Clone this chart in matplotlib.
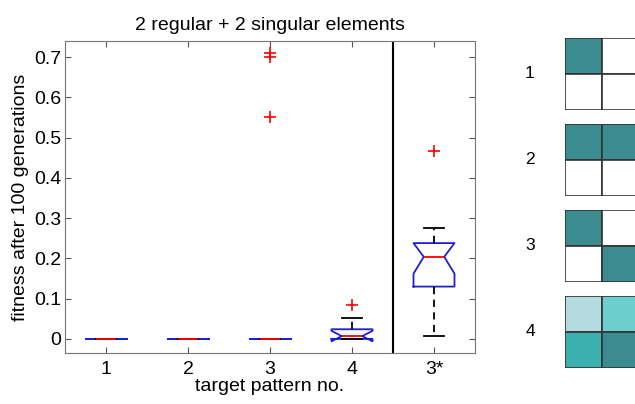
import numpy as np
import matplotlib.pyplot as plt
from matplotlib.patches import Rectangle

plt.rcParams['font.family'] = ['Liberation Sans', 'DejaVu Sans']

# box statistics
labels = ['1', '2', '3', '4', '3*']
q1 = [0.0, 0.0, 0.0, 0.0, 0.13]
med = [0.0, 0.0, 0.0, 0.007, 0.204]
q3 = [0.0, 0.0, 0.0, 0.024, 0.238]
ci_lo = [0.0, 0.0, 0.0, -0.006, 0.162]
ci_hi = [0.0, 0.0, 0.0, 0.02, 0.238]
wh_lo = [0.0, 0.0, 0.0, 0.0, 0.006]
wh_hi = [0.0, 0.0, 0.0, 0.052, 0.275]
fliers = [[], [], [0.70, 0.71, 0.55], [0.083], [0.466]]

# target patterns (2x2 cells)
patterns = [
    [['#3b8c8f', 'white'], ['white', 'white']],
    [['#3b8c8f', '#3b8c8f'], ['white', 'white']],
    [['#3b8c8f', 'white'], ['white', '#3b8c8f']],
    [['#b4dbe0', '#6dcfcc'], ['#3bb0ae', '#3b8c8f']],
]

fig = plt.figure(figsize=(6.35, 4.04), dpi=100)
ax = fig.add_axes([65/635, 1-353/404, 410/635, 312/404])

stats = []
for i in range(len(labels)):
    stats.append(dict(med=med[i], q1=q1[i], q3=q3[i], whislo=wh_lo[i],
                      whishi=wh_hi[i], cilo=ci_lo[i], cihi=ci_hi[i],
                      fliers=fliers[i], label=labels[i]))

ax.bxp(stats, positions=np.arange(1, 6), widths=0.5, shownotches=True,
       boxprops=dict(color='#1f1fd0', lw=1.3),
       medianprops=dict(color='red', lw=1.3),
       whiskerprops=dict(color='black', ls=(0, (4, 3)), lw=1.3),
       capprops=dict(color='black', lw=1.3),
       flierprops=dict(marker='+', markeredgecolor='red', markersize=9,
                       markeredgewidth=1.2, linestyle='none'))

ax.axvline(4.5, color='black', lw=1.5)
ax.set_xlim(0.5, 5.5)
ax.set_ylim(-0.035, 0.74)
ax.set_yticks(np.arange(0, 0.71, 0.1))
ax.set_yticklabels(['0', '0.1', '0.2', '0.3', '0.4', '0.5', '0.6', '0.7'])
ax.tick_params(direction='in', top=True, right=True, labelsize=14,
               length=4, color='#555555')
ax.tick_params(axis='x', pad=6)
ax.tick_params(axis='y', pad=2.5)
for s in ax.spines.values():
    s.set_color('#777777')
ax.set_title('2 regular + 2 singular elements', fontsize=14, pad=8)
ax.set_xlabel('target pattern no.', fontsize=14)
ax.xaxis.set_label_coords(0.5, -0.08)
ax.set_ylabel('fitness after 100 generations', fontsize=14, labelpad=4)

# pattern thumbnails on the right
tops = [38, 124, 210, 296]
for k, pat in enumerate(patterns):
    pax = fig.add_axes([565/635, 1-(tops[k]+72)/404, 74/635, 72/404])
    for r in range(2):
        for c in range(2):
            pax.add_patch(Rectangle((c, 1-r), 1, 1, facecolor=pat[r][c],
                                    edgecolor='#333333', lw=1.2))
    pax.set_xlim(0, 2)
    pax.set_ylim(0, 2)
    pax.axis('off')
    fig.text(530/635, 1-(tops[k]+36)/404, str(k+1), fontsize=12.5,
             ha='center', va='center')

fig.savefig('out.png', dpi=100)
